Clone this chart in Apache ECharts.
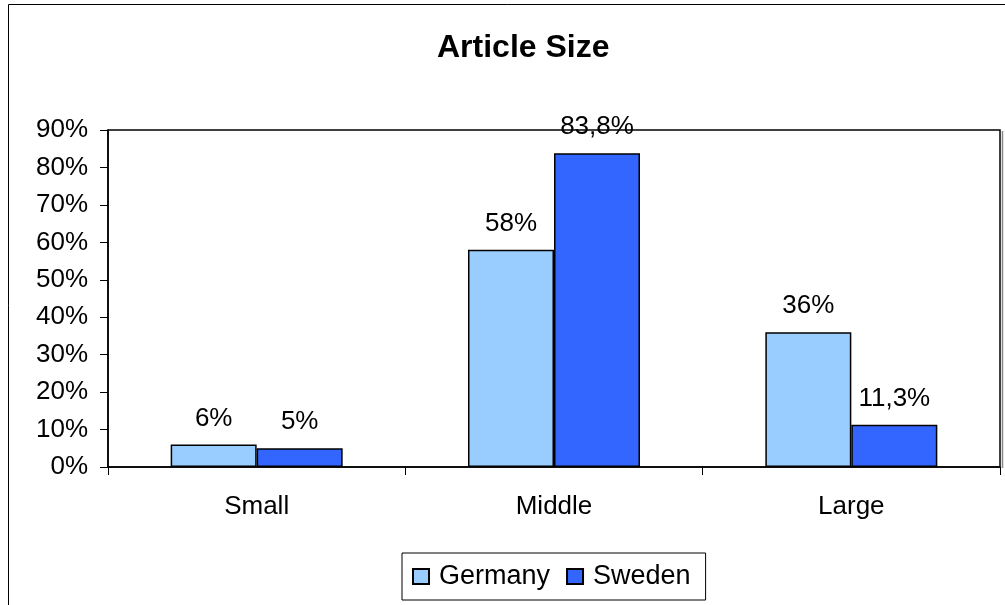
<!DOCTYPE html>
<html>
<head>
<meta charset="utf-8">
<script src="https://cdn.jsdelivr.net/npm/echarts@6/dist/echarts.min.js"></script>
<style>html,body{margin:0;padding:0;background:#fff}#c{width:1005px;height:605px}</style>
</head>
<body>
<div id="c"></div>
<script>
const categories = ['Small', 'Middle', 'Large'];
const germany = [6, 58, 36];
const sweden = [5, 83.8, 11.3];
const germanyLabels = ['6%', '58%', '36%'];
const swedenLabels = ['5%', '83,8%', '11,3%'];
const yTicks = [0, 10, 20, 30, 40, 50, 60, 70, 80, 90];

const font = 'Liberation Sans, Arial, sans-serif';
const chart = echarts.init(document.getElementById('c'), null, {renderer: 'canvas'});
chart.setOption({
  animation: false,
  backgroundColor: '#fff',
  graphic: [{
    type: 'rect', shape: {x: 8.5, y: 4.5, width: 1100, height: 700},
    style: {fill: 'none', stroke: '#000', lineWidth: 1}, z: -1
  }, {
    type: 'line', shape: {x1: 1002.5, y1: 131, x2: 1002.5, y2: 468},
    style: {stroke: '#888', lineWidth: 1.5}, z: 5
  }],
  title: {
    text: 'Article Size', left: 432, top: 27,
    textStyle: {fontFamily: font, fontSize: 32, fontWeight: 'bold', color: '#000'}
  },
  legend: {
    data: ['Germany', 'Sweden'],
    left: 402, top: 553,
    padding: [10, 15, 10, 10],
    borderColor: '#000', borderWidth: 1,
    itemWidth: 16, itemHeight: 15, itemGap: 16,
    icon: 'rect',
    textStyle: {fontFamily: font, fontSize: 27, color: '#000', padding: [0, 0, 0, 5]}
  },
  grid: {left: 108, top: 130, right: 5, bottom: 138, show: true, borderColor: '#000', borderWidth: 1.5},
  xAxis: {
    type: 'category', data: categories,
    axisLine: {lineStyle: {color: '#000', width: 1.5}},
    axisTick: {show: true, length: 8, lineStyle: {color: '#000'}},
    axisLabel: {fontFamily: font, fontSize: 26, color: '#000', margin: 27}
  },
  yAxis: {
    type: 'value', min: 0, max: 90, interval: 10,
    axisLine: {show: true, lineStyle: {color: '#000', width: 1.5}},
    axisTick: {show: true, length: 8, lineStyle: {color: '#000'}},
    splitLine: {show: false},
    axisLabel: {fontFamily: font, fontSize: 26, color: '#000', margin: 20,
      formatter: v => yTicks.includes(v) ? v + '%' : ''}
  },
  series: [{
    name: 'Germany', type: 'bar', data: germany,
    barWidth: 86, barGap: '0%',
    itemStyle: {color: '#99CCFF', borderColor: '#000', borderWidth: 1.5},
    label: {show: true, position: 'top', distance: 13, fontFamily: font, fontSize: 26, color: '#000',
      formatter: p => germanyLabels[p.dataIndex]}
  }, {
    name: 'Sweden', type: 'bar', data: sweden,
    barWidth: 86, barGap: '0%',
    itemStyle: {color: '#3366FF', borderColor: '#000', borderWidth: 1.5},
    label: {show: true, position: 'top', distance: 13, fontFamily: font, fontSize: 26, color: '#000',
      formatter: p => swedenLabels[p.dataIndex]}
  }]
});
</script>
</body>
</html>
